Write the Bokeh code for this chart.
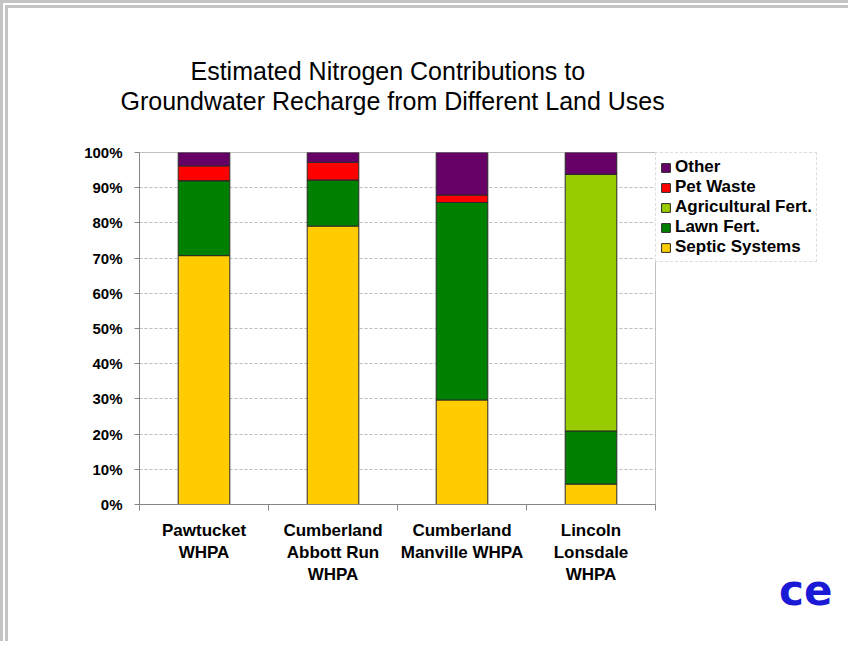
from bokeh.plotting import figure
from bokeh.models import (Range1d, FixedTicker, PrintfTickFormatter, Legend, LegendItem,
                          Title, ColumnDataSource)
from bokeh.embed import file_html
from bokeh.resources import INLINE

# ---- data ----
categories = ["Pawtucket\nWHPA", "Cumberland\nAbbott Run\nWHPA",
              "Cumberland\nManville WHPA", "Lincoln\nLonsdale\nWHPA"]
septic = [70.7, 79.1, 29.7, 5.8]
lawn = [21.3, 13.1, 56.1, 15.1]
agri = [0.0, 0.0, 0.0, 72.9]
pet = [4.2, 5.0, 2.1, 0.0]
other = [3.8, 2.8, 12.1, 6.2]
series_keys = ["septic", "lawn", "agri", "pet", "other"]
series_names = ["Septic Systems", "Lawn Fert.", "Agricultural Fert.", "Pet Waste", "Other"]
colors = ["#FFCC00", "#008000", "#99CC00", "#FF0000", "#660066"]
y_ticks = [0, 10, 20, 30, 40, 50, 60, 70, 80, 90, 100]
title_lines = ["Estimated Nitrogen Contributions to",
               "Groundwater Recharge from Different Land Uses"]
logo_text = "ce"

xs = [i + 0.5 for i in range(len(categories))]
source = ColumnDataSource(dict(x=xs, septic=septic, lawn=lawn, agri=agri, pet=pet, other=other))

FONT = "Liberation Sans"

p = figure(frame_width=516, frame_height=352, output_backend="svg", toolbar_location=None,
           x_range=Range1d(0, len(categories)), y_range=Range1d(0, 100),
           min_border_left=131, min_border_right=185, min_border_top=144, min_border_bottom=137,
           background_fill_color="white", border_fill_color="white")
p.styles = {"border-top": "8px double #C4C4C4", "border-left": "8px double #C4C4C4"}
p.outline_line_color = "#C0C0C0"

renderers = p.vbar_stack(series_keys, x="x", width=0.4, color=colors, source=source,
                         line_color="#2A2A2A", line_width=1)

# grid
p.xgrid.visible = False
p.ygrid.ticker = FixedTicker(ticks=y_ticks[1:-1])
p.ygrid.grid_line_color = "#BDBDBD"
p.ygrid.grid_line_dash = "3 2"

# y axis
p.yaxis.ticker = FixedTicker(ticks=y_ticks)
p.yaxis.formatter = PrintfTickFormatter(format="%d%%")
p.yaxis.axis_line_color = "#868686"
p.yaxis.major_tick_line_color = "#868686"
p.yaxis.major_tick_out = 5
p.yaxis.major_tick_in = 0
p.yaxis.minor_tick_line_color = None
p.yaxis.major_label_standoff = 12
p.yaxis.major_label_text_font = FONT
p.yaxis.major_label_text_font_style = "bold"
p.yaxis.major_label_text_font_size = "15px"
p.yaxis.major_label_text_color = "black"

# x axis
p.xaxis.ticker = FixedTicker(ticks=xs, minor_ticks=list(range(len(categories) + 1)))
p.xaxis.major_label_overrides = {x: c for x, c in zip(xs, categories)}
p.xaxis.axis_line_color = "#868686"
p.xaxis.major_tick_out = 0
p.xaxis.major_tick_in = 0
p.xaxis.minor_tick_out = 6
p.xaxis.minor_tick_in = 0
p.xaxis.minor_tick_line_color = "#868686"
p.xaxis.major_label_standoff = 10
p.xaxis.major_label_text_font = FONT
p.xaxis.major_label_text_font_style = "bold"
p.xaxis.major_label_text_font_size = "17px"
p.xaxis.major_label_text_line_height = 1.17
p.xaxis.major_label_text_color = "black"

# legend (reverse order), in right panel
items = [LegendItem(label=n, renderers=[r]) for n, r in zip(series_names, renderers)][::-1]
legend = Legend(items=items, location="top_left", padding=4, spacing=0,
                label_height=20, glyph_height=11, glyph_width=11, label_standoff=4,
                margin=0,
                label_text_font=FONT, label_text_font_style="bold", label_text_font_size="17px",
                label_text_color="black",
                border_line_color="#BBBBBB", border_line_dash="2 2", border_line_width=1,
                background_fill_color="white", background_fill_alpha=1.0)
p.add_layout(legend, "right")

# title: spacer (closest to the plot), then line 2, then line 1
p.add_layout(Title(text=" ", standoff=8, text_font=FONT, text_font_size="25px"), "above")
p.add_layout(Title(text=title_lines[1], align="left", offset=-19, standoff=0,
                   text_font=FONT, text_font_style="normal", text_font_size="25px",
                   text_color="black"), "above")
p.add_layout(Title(text=title_lines[0], align="left", offset=51, standoff=0,
                   text_font=FONT, text_font_style="normal", text_font_size="25px",
                   text_color="black"), "above")

# logo
p.add_layout(Title(text=logo_text, align="right", offset=-177, standoff=-42, vertical_align="top",
                   text_font="DejaVu Sans", text_font_style="bold", text_font_size="42px",
                   text_color="#1A1AD6"), "below")

open("out.html", "w").write(file_html(p, INLINE))
